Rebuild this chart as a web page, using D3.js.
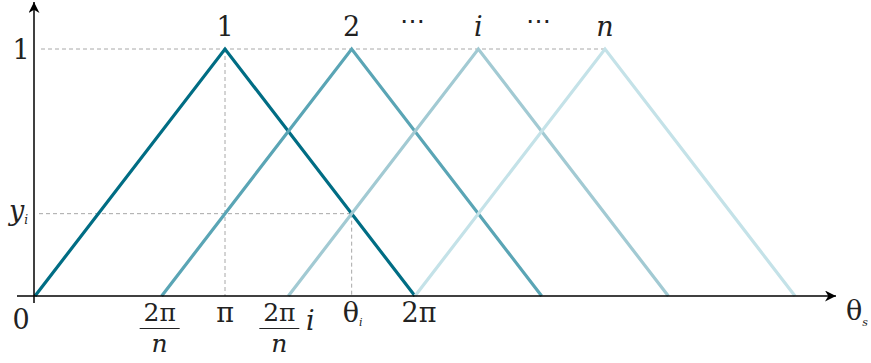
<!DOCTYPE html>
<html>
<head>
<meta charset="utf-8">
<script src="https://cdn.jsdelivr.net/npm/d3@7"></script>
<style>
  html, body { margin: 0; padding: 0; background: #fff; }
  text { font-family: "DejaVu Serif", "Liberation Serif", serif; }
</style>
</head>
<body>
<svg id="chart" width="871" height="363"></svg>
<script>
// Triangular membership functions: each starts at an offset (in units of π),
// peaks one π later at value 1, and returns to 0 after 2π.
const offsets = [0, 2/3, 4/3, 2];
const peakValues = [1, 1, 1, 1];
const peakLabels = ["1", "2", "i", "n"];
const peakItalic = [false, false, true, true];
const colors = ["#006d84", "#5aa5b5", "#a2cad3", "#c4e2e8"];

// Reference values on the axes (θ in units of π)
const yiValue = 1 / 3;
const thetaI = 5 / 3;

const svg = d3.select("#chart");

const x = d3.scaleLinear().domain([0, 4]).range([35, 795]);
const y = d3.scaleLinear().domain([0, 1]).range([296, 49]);

const dash = "#a8a8a8";
const ink = "#222";

function label(parent, px, py, str, opts = {}) {
  return parent.append("text")
    .attr("x", px).attr("y", py)
    .attr("font-size", opts.size || 27)
    .attr("font-style", opts.italic ? "italic" : "normal")
    .attr("text-anchor", opts.anchor || "middle")
    .attr("fill", ink)
    .text(str);
}

// Dashed guides
const guides = svg.append("g")
  .attr("stroke", dash)
  .attr("stroke-width", 1)
  .attr("stroke-dasharray", "4,3")
  .attr("fill", "none");
guides.append("line")
  .attr("x1", x(0) + 6).attr("x2", x(offsets[3] + 1))
  .attr("y1", y(1)).attr("y2", y(1));
guides.append("line")
  .attr("x1", x(0) + 4).attr("x2", x(thetaI))
  .attr("y1", y(yiValue)).attr("y2", y(yiValue));
guides.append("line")
  .attr("x1", x(1)).attr("x2", x(1))
  .attr("y1", y(1)).attr("y2", y(0));
guides.append("line")
  .attr("x1", x(thetaI)).attr("x2", x(thetaI))
  .attr("y1", y(yiValue)).attr("y2", y(0));

// Triangles
const line = d3.line().x(d => x(d[0])).y(d => y(d[1]));
const tris = offsets.map((o, k) => [[o, 0], [o + 1, peakValues[k]], [o + 2, 0]]);
svg.append("g")
  .selectAll("path")
  .data(tris)
  .join("path")
  .attr("d", line)
  .attr("fill", "none")
  .attr("stroke", (d, k) => colors[k])
  .attr("stroke-width", 3.2)
  .attr("stroke-linejoin", "miter");

// Axes with arrowheads
const defs = svg.append("defs");
defs.append("marker")
  .attr("id", "arrow")
  .attr("viewBox", "0 0 10 10")
  .attr("refX", 10).attr("refY", 5)
  .attr("markerWidth", 16).attr("markerHeight", 11)
  .attr("markerUnits", "userSpaceOnUse")
  .attr("orient", "auto")
  .append("path")
  .attr("d", "M0,0 L10,5 L0,10 L3,5 Z")
  .attr("fill", "#000");

const axes = svg.append("g").attr("stroke", "#000").attr("stroke-width", 1.5);
axes.append("line")
  .attr("x1", 17).attr("x2", 836)
  .attr("y1", y(0)).attr("y2", y(0))
  .attr("marker-end", "url(#arrow)");
axes.append("line")
  .attr("x1", x(0) - 1).attr("x2", x(0) - 1)
  .attr("y1", y(0) + 7).attr("y2", 2)
  .attr("marker-end", "url(#arrow)");

// Peak labels
const labels = svg.append("g");
offsets.forEach((o, k) => {
  label(labels, x(o + 1), 36, peakLabels[k], { italic: peakItalic[k] });
});

// Ellipses between peak labels
[[offsets[1] + 1, offsets[2] + 1], [offsets[2] + 1, offsets[3] + 1]].forEach(([a, b]) => {
  label(labels, (x(a) + x(b)) / 2 - 3, 29, "\u22EF", { size: 25 });
});

// Y-axis labels
label(labels, 21, y(1) + 10, "1");
const yl = label(labels, 9, y(yiValue) + 6, "", { anchor: "start", italic: true });
yl.append("tspan").text("y");
yl.append("tspan").attr("font-size", 12).attr("dy", 4).text("i");

// X-axis labels
const base = y(0) + 26;
label(labels, 21, y(0) + 33, "0");

function fraction(cx) {
  label(labels, cx, y(0) + 25, "2\u03C0", { size: 25 });
  labels.append("line")
    .attr("x1", cx - 20).attr("x2", cx + 20)
    .attr("y1", y(0) + 32.5).attr("y2", y(0) + 32.5)
    .attr("stroke", ink).attr("stroke-width", 1.2);
  label(labels, cx, y(0) + 56, "n", { size: 25, italic: true });
}
fraction(x(offsets[1]) - 2);
fraction(x(offsets[2]) - 9);
label(labels, x(offsets[2]) + 22, base + 8, "i", { italic: true });

label(labels, x(1), base, "\u03C0");

const ti = label(labels, x(thetaI) - 9, base, "", { anchor: "start" });
ti.append("tspan").text("\u03B8");
ti.append("tspan").attr("font-size", 11).attr("font-style", "italic").attr("dy", 4).text("i");

label(labels, x(2) + 4, base, "2\u03C0");

const ts = label(labels, 846, y(0) + 24, "", { anchor: "start" });
ts.append("tspan").text("\u03B8");
ts.append("tspan").attr("font-size", 11).attr("font-style", "italic").attr("dy", 6).text("s");
</script>
</body>
</html>
